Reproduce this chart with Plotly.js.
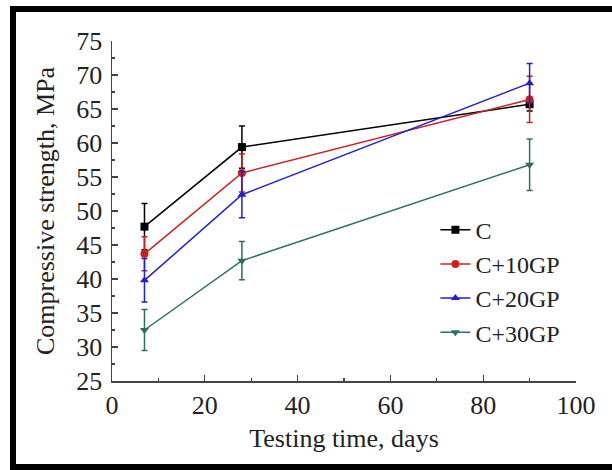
<!DOCTYPE html>
<html>
<head>
<meta charset="utf-8">
<script src="https://cdn.plot.ly/plotly-3.0.1.min.js"></script>
<style>
html,body{margin:0;padding:0;background:#fff;}
#wrap{position:relative;width:612px;height:470px;overflow:hidden;}
#frame{position:absolute;left:10px;top:6px;width:620px;height:452px;border-left:6px solid #000;border-top:6px solid #000;border-bottom:6px solid #000;pointer-events:none;z-index:10;}
#chart{width:612px;height:470px;}
</style>
</head>
<body>
<div id="wrap">
<div id="chart"></div>
<div id="frame"></div>
</div>
<script>
const days = [7, 28, 90];
const seriesNames = ["C", "C+10GP", "C+20GP", "C+30GP"];
const strengthC = [47.7, 59.4, 65.7];
const strength10 = [43.7, 55.6, 66.4];
const strength20 = [39.8, 52.4, 68.8];
const strength30 = [32.5, 42.7, 56.8];
const errC = [3.4, 3.1, 1.0];
const err10 = [2.5, 2.8, 3.4];
const err20 = [3.2, 3.4, 2.9];
const err30 = [3.0, 2.8, 3.8];

const colors = ["#000000", "#cc2020", "#2020cc", "#2e6e62"];
const symbols = ["square", "circle", "triangle-up", "triangle-down"];
const values = [strengthC, strength10, strength20, strength30];
const errs = [errC, err10, err20, err30];

const traces = values.map((v, i) => ({
  x: days, y: v, name: seriesNames[i], type: "scatter", mode: "lines+markers",
  line: {color: colors[i], width: 1.5},
  marker: {symbol: symbols[i], size: 8, color: colors[i]},
  error_y: {type: "data", array: errs[i], visible: true, color: colors[i], thickness: 1.5, width: 3}
}));

const fontFam = "'Liberation Serif', 'Times New Roman', serif";
const layout = {
  width: 612, height: 470,
  margin: {l: 112, r: 36, t: 41, b: 89},
  paper_bgcolor: "#fff", plot_bgcolor: "#fff",
  font: {family: fontFam, size: 26, color: "#222"},
  showlegend: true,
  legend: {x: 0.697, y: 0.51, xanchor: "left", yanchor: "top", bgcolor: "rgba(0,0,0,0)",
           font: {family: fontFam, size: 24, color: "#222"}, tracegroupgap: 0},
  xaxis: {
    range: [0, 100], dtick: 20, tick0: 0, showgrid: false, zeroline: false,
    showline: true, linecolor: "#444", linewidth: 1.5,
    ticks: "inside", ticklen: 6, tickwidth: 1.2, tickcolor: "#444",
    minor: {ticks: "inside", dtick: 10, ticklen: 3, tickwidth: 1.2, tickcolor: "#444", showgrid: false},
    tickfont: {family: fontFam, size: 26, color: "#222"},
    title: {text: "Testing time, days", font: {family: fontFam, size: 26, color: "#222"}, standoff: 10}
  },
  yaxis: {
    range: [25, 75], dtick: 5, tick0: 25, showgrid: false, zeroline: false,
    showline: true, linecolor: "#444", linewidth: 1.5,
    ticks: "inside", ticklen: 6, tickwidth: 1.2, tickcolor: "#444",
    ticklabelstandoff: 3,
    minor: {ticks: "inside", dtick: 2.5, ticklen: 3, tickwidth: 1.2, tickcolor: "#444", showgrid: false},
    tickfont: {family: fontFam, size: 26, color: "#222"},
    title: {text: "Compressive strength, MPa", font: {family: fontFam, size: 26, color: "#222"}, standoff: 14}
  }
};
Plotly.newPlot("chart", traces, layout, {displayModeBar: false, staticPlot: true});
</script>
</body>
</html>
